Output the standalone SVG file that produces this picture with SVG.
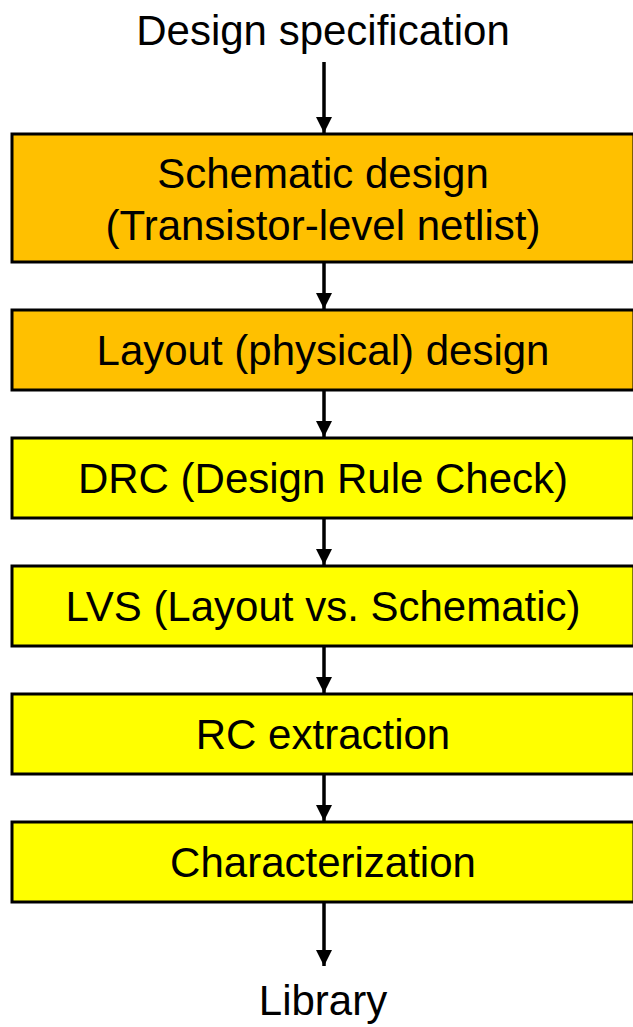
<svg xmlns="http://www.w3.org/2000/svg" width="633" height="1027" viewBox="0 0 633 1027">
  <style>
    .lbl { font-family: "Liberation Sans", Arial, sans-serif; font-size: 42px; fill: #000; text-anchor: middle; }
    .box { stroke: #000; stroke-width: 3; }
    .orange { fill: #FFC000; }
    .yellow { fill: #FFFF00; }
    .conn { stroke: #000; stroke-width: 3.5; fill: none; }
  </style>
  <defs>
    <marker id="arrow" viewBox="0 0 16 16" refX="16" refY="8" markerWidth="16" markerHeight="16" markerUnits="userSpaceOnUse" orient="auto">
      <path d="M0,0 L16,8 L0,16 Z" fill="#000"/>
    </marker>
  </defs>
  <rect width="633" height="1027" fill="#fff"/>

  <g id="design-spec">
    <text class="lbl" x="323" y="45">Design specification</text>
  </g>

  <g id="schematic">
    <rect class="box orange" x="12" y="134" width="622" height="128"/>
    <text class="lbl" x="323" y="188">Schematic design</text>
    <text class="lbl" x="323" y="240">(Transistor-level netlist)</text>
  </g>

  <g id="layout">
    <rect class="box orange" x="12" y="310" width="622" height="80"/>
    <text class="lbl" x="323" y="365">Layout (physical) design</text>
  </g>

  <g id="drc">
    <rect class="box yellow" x="12" y="438" width="622" height="80"/>
    <text class="lbl" x="323" y="493">DRC (Design Rule Check)</text>
  </g>

  <g id="lvs">
    <rect class="box yellow" x="12" y="566" width="622" height="80"/>
    <text class="lbl" x="323" y="621">LVS (Layout vs. Schematic)</text>
  </g>

  <g id="rc">
    <rect class="box yellow" x="12" y="694" width="622" height="80"/>
    <text class="lbl" x="323" y="749">RC extraction</text>
  </g>

  <g id="char">
    <rect class="box yellow" x="12" y="822" width="622" height="80"/>
    <text class="lbl" x="323" y="877">Characterization</text>
  </g>

  <g id="library">
    <text class="lbl" x="323" y="1015">Library</text>
  </g>

  <g id="connectors">
    <line class="conn" x1="324" y1="62" x2="324" y2="133" marker-end="url(#arrow)"/>
    <line class="conn" x1="324" y1="263" x2="324" y2="309" marker-end="url(#arrow)"/>
    <line class="conn" x1="324" y1="391" x2="324" y2="437" marker-end="url(#arrow)"/>
    <line class="conn" x1="324" y1="519" x2="324" y2="565" marker-end="url(#arrow)"/>
    <line class="conn" x1="324" y1="647" x2="324" y2="693" marker-end="url(#arrow)"/>
    <line class="conn" x1="324" y1="775" x2="324" y2="821" marker-end="url(#arrow)"/>
    <line class="conn" x1="324" y1="903" x2="324" y2="966" marker-end="url(#arrow)"/>
  </g>
</svg>
